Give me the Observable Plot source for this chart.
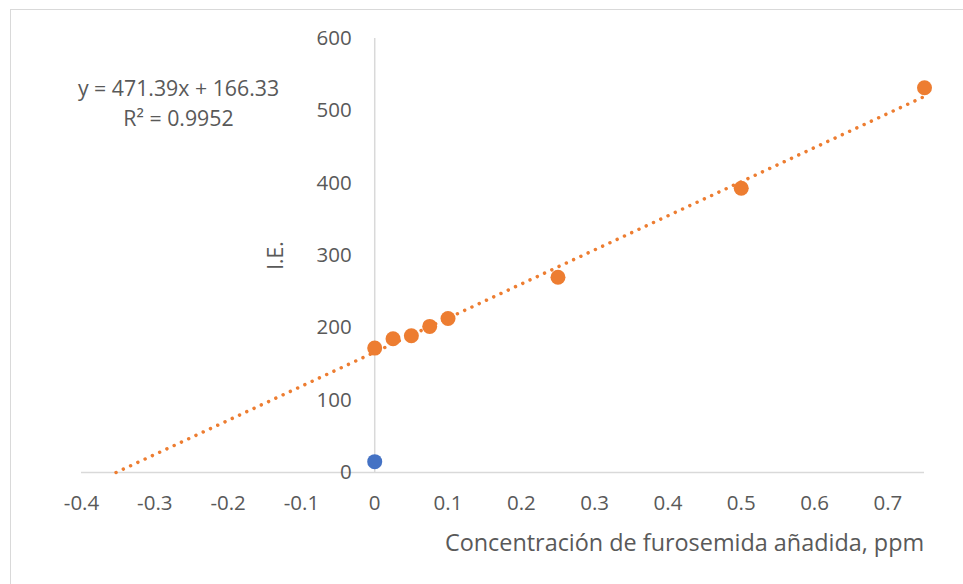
<!DOCTYPE html>
<html>
<head>
<meta charset="utf-8">
<script src="https://cdn.jsdelivr.net/npm/d3@7"></script>
<script src="https://cdn.jsdelivr.net/npm/@observablehq/plot@0.6"></script>
<style>
  html, body { margin: 0; padding: 0; background: #fff; }
  #wrap { position: relative; width: 963px; height: 584px; overflow: hidden; }
  #frame { position: absolute; left: 10px; top: 9px; width: 1000px; height: 700px; border: 1.5px solid #d9d9d9; box-sizing: border-box; }
  #chart { position: absolute; left: 0; top: 0; }
</style>
</head>
<body>
<div id="wrap"><div id="frame"></div><div id="chart"></div></div>
<script>
// Data
const concX = [0, 0.025, 0.05, 0.075, 0.1, 0.25, 0.5, 0.75];
const ieY = [172, 185, 189, 202, 213, 270, 393, 532];
const blankX = [0];
const blankY = [15];
const slope = 471.39;
const intercept = 166.33;
const r2 = 0.9952;
const xTicks = [-0.4, -0.3, -0.2, -0.1, 0, 0.1, 0.2, 0.3, 0.4, 0.5, 0.6, 0.7];
const yTicks = [0, 100, 200, 300, 400, 500, 600];
const xTitle = "Concentración de furosemida añadida, ppm";
const yTitle = "I.E.";

const pts = concX.map((x, i) => ({x, y: ieY[i]}));
const blank = blankX.map((x, i) => ({x, y: blankY[i]}));
const xEnd = concX[concX.length - 1];
const trend = [-intercept / slope, xEnd].map(x => ({x, y: slope * x + intercept}));
const eqLines = [`y = ${slope}x + ${intercept}`, `R² = ${r2}`];

const font = "Open Sans";
const txt = "#595959";
const axisCol = "#d9d9d9";

const chart = Plot.plot({
  width: 963,
  height: 584,
  marginLeft: 81,
  marginRight: 39,
  marginTop: 38,
  marginBottom: 112,
  style: {fontFamily: font, background: "transparent"},
  x: {domain: [-0.4, 0.75], axis: null},
  y: {domain: [0, 600], axis: null},
  marks: [
    Plot.ruleY([0], {x1: -0.4, x2: 0.75, stroke: axisCol, strokeWidth: 1.5}),
    Plot.ruleX([0], {y1: 0, y2: 600, stroke: axisCol, strokeWidth: 1.5}),
    Plot.text(xTicks, {x: d => d, y: 0, text: d => String(d), dy: 31, fill: txt, fontSize: 20.5}),
    Plot.text(yTicks, {x: 0, y: d => d, text: d => String(d), dx: -23, textAnchor: "end", fill: txt, fontSize: 20.5}),
    Plot.line(trend, {x: "x", y: "y", stroke: "#ED7D31", strokeWidth: 3.5, strokeDasharray: "0.01,8", strokeLinecap: "round"}),
    Plot.dot(pts, {x: "x", y: "y", r: 7.5, fill: "#ED7D31", stroke: "none"}),
    Plot.dot(blank, {x: "x", y: "y", r: 7.5, fill: "#4472C4", stroke: "none"}),
    Plot.text([eqLines[0]], {frameAnchor: "top-left", lineAnchor: "middle", dx: 97, dy: 51, text: d => d, fill: txt, fontSize: 21.3, textAnchor: "middle"}),
    Plot.text([eqLines[1]], {frameAnchor: "top-left", lineAnchor: "middle", dx: 97, dy: 81, text: d => d, fill: txt, fontSize: 21.3, textAnchor: "middle"}),
    Plot.text([xTitle], {frameAnchor: "bottom-left", lineAnchor: "middle", dx: 603, dy: 71, text: d => d, fill: txt, fontSize: 23.4, textAnchor: "middle"}),
    Plot.text([yTitle], {frameAnchor: "left", lineAnchor: "middle", dx: -81 + 276, dy: 0, text: d => d, fill: txt, fontSize: 21, rotate: -90, textAnchor: "middle"})
  ]
});
document.getElementById("chart").appendChild(chart);
</script>
</body>
</html>
